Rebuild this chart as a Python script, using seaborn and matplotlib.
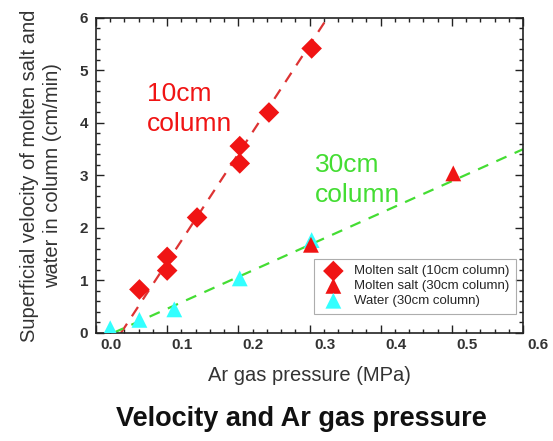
import matplotlib
matplotlib.use("Agg")
import matplotlib.pyplot as plt
import matplotlib.transforms as mtransforms
from matplotlib.ticker import MultipleLocator
import seaborn as sns

# molten salt, 10cm column
salt10_p = [0.061, 0.100, 0.100, 0.142, 0.202, 0.202, 0.243, 0.303]
salt10_v = [0.83, 1.45, 1.19, 2.20, 3.56, 3.23, 4.20, 5.42]
# molten salt, 30cm column
salt30_p = [0.302, 0.502]
salt30_v = [1.68, 3.04]
# water, 30cm column
water_p = [0.020, 0.061, 0.110, 0.202, 0.303]
water_v = [0.09, 0.25, 0.45, 1.04, 1.77]
# fitted lines (end points)
fit10_p = [0.035, 0.325]
fit10_v = [0.0, 6.0]
fit30_p = [0.024, 0.6]
fit30_v = [0.0, 3.5]

sns.set_style("ticks")
plt.rcParams["font.family"] = ["Liberation Sans", "DejaVu Sans"]

fig = plt.figure(figsize=(5.53, 4.41), dpi=100)
ax = fig.add_axes([0.1736, 0.2449, 0.7722, 0.7143])

red = "#f01414"
cyan = "#33ffff"
green = "#44dd33"

sns.lineplot(x=fit10_p, y=fit10_v, ax=ax, color="#dd3333", lw=1.6,
             linestyle=(0, (5, 4)), zorder=1)
sns.lineplot(x=fit30_p, y=fit30_v, ax=ax, color=green, lw=1.6,
             linestyle=(0, (5, 4)), zorder=1)

sns.scatterplot(x=salt10_p, y=salt10_v, ax=ax, marker="D", s=110, color=red,
                edgecolor="none", label="Molten salt (10cm column)", zorder=3)
sns.scatterplot(x=water_p, y=water_v, ax=ax, marker="^", s=130, color=cyan,
                edgecolor="none", label="Water (30cm column)", zorder=3)
sns.scatterplot(x=salt30_p, y=salt30_v, ax=ax, marker="^", s=130, color=red,
                edgecolor="none", label="Molten salt (30cm column)", zorder=4)

ax.set_xlim(0, 0.6)
ax.set_ylim(0, 6)
ax.xaxis.set_major_locator(MultipleLocator(0.1))
ax.xaxis.set_minor_locator(MultipleLocator(0.02))
ax.yaxis.set_major_locator(MultipleLocator(1))
ax.yaxis.set_minor_locator(MultipleLocator(0.2))
ax.tick_params(which="both", direction="in", top=True, right=True, width=1,
               color="#222222")
ax.tick_params(which="major", length=6, labelsize=11, labelcolor="#333333")
ax.tick_params(which="minor", length=3)
ax.set_xticks([0, 0.1, 0.2, 0.3, 0.4, 0.5, 0.6])
ax.set_xticklabels(["0.0", "0.1", "0.2", "0.3", "0.4", "0.5", "0.6"])
for lab in ax.get_xticklabels() + ax.get_yticklabels():
    lab.set_fontweight("bold")
shift = mtransforms.ScaledTranslation(0.15, 0, fig.dpi_scale_trans)
for lab in ax.get_xticklabels():
    lab.set_transform(lab.get_transform() + shift)
yshift = mtransforms.ScaledTranslation(-0.03, 0, fig.dpi_scale_trans)
for lab in ax.get_yticklabels():
    lab.set_transform(lab.get_transform() + yshift)
for sp in ax.spines.values():
    sp.set_linewidth(1.2)
    sp.set_color("#222222")

ax.set_xlabel("Ar gas pressure (MPa)", fontsize=14.5, color="#333333", labelpad=10)
ax.set_ylabel("Superficial velocity of molten salt and\nwater in column (cm/min)",
              fontsize=14.5, color="#333333", labelpad=13, linespacing=1.25)

ax.text(0.072, 3.75, "10cm\ncolumn", color=red, fontsize=19, linespacing=1.3,
        va="bottom", ha="left")
ax.text(0.307, 2.4, "30cm\ncolumn", color=green, fontsize=19, linespacing=1.3,
        va="bottom", ha="left")

handles, labels = ax.get_legend_handles_labels()
order = [0, 2, 1]
leg = ax.legend([handles[i] for i in order], [labels[i] for i in order],
                loc="lower right", bbox_to_anchor=(1.0, 0.04), fontsize=9.5,
                frameon=True, fancybox=False, edgecolor="#999999",
                handletextpad=0.6, borderpad=0.5, labelspacing=0.2,
                markerscale=1.0)
leg.get_frame().set_linewidth(0.8)

fig.text(0.545, 0.02, "Velocity and Ar gas pressure", ha="center", va="bottom",
         fontsize=19.5, fontweight="bold", color="#111111")

fig.savefig("out.png", dpi=100, facecolor="white")
